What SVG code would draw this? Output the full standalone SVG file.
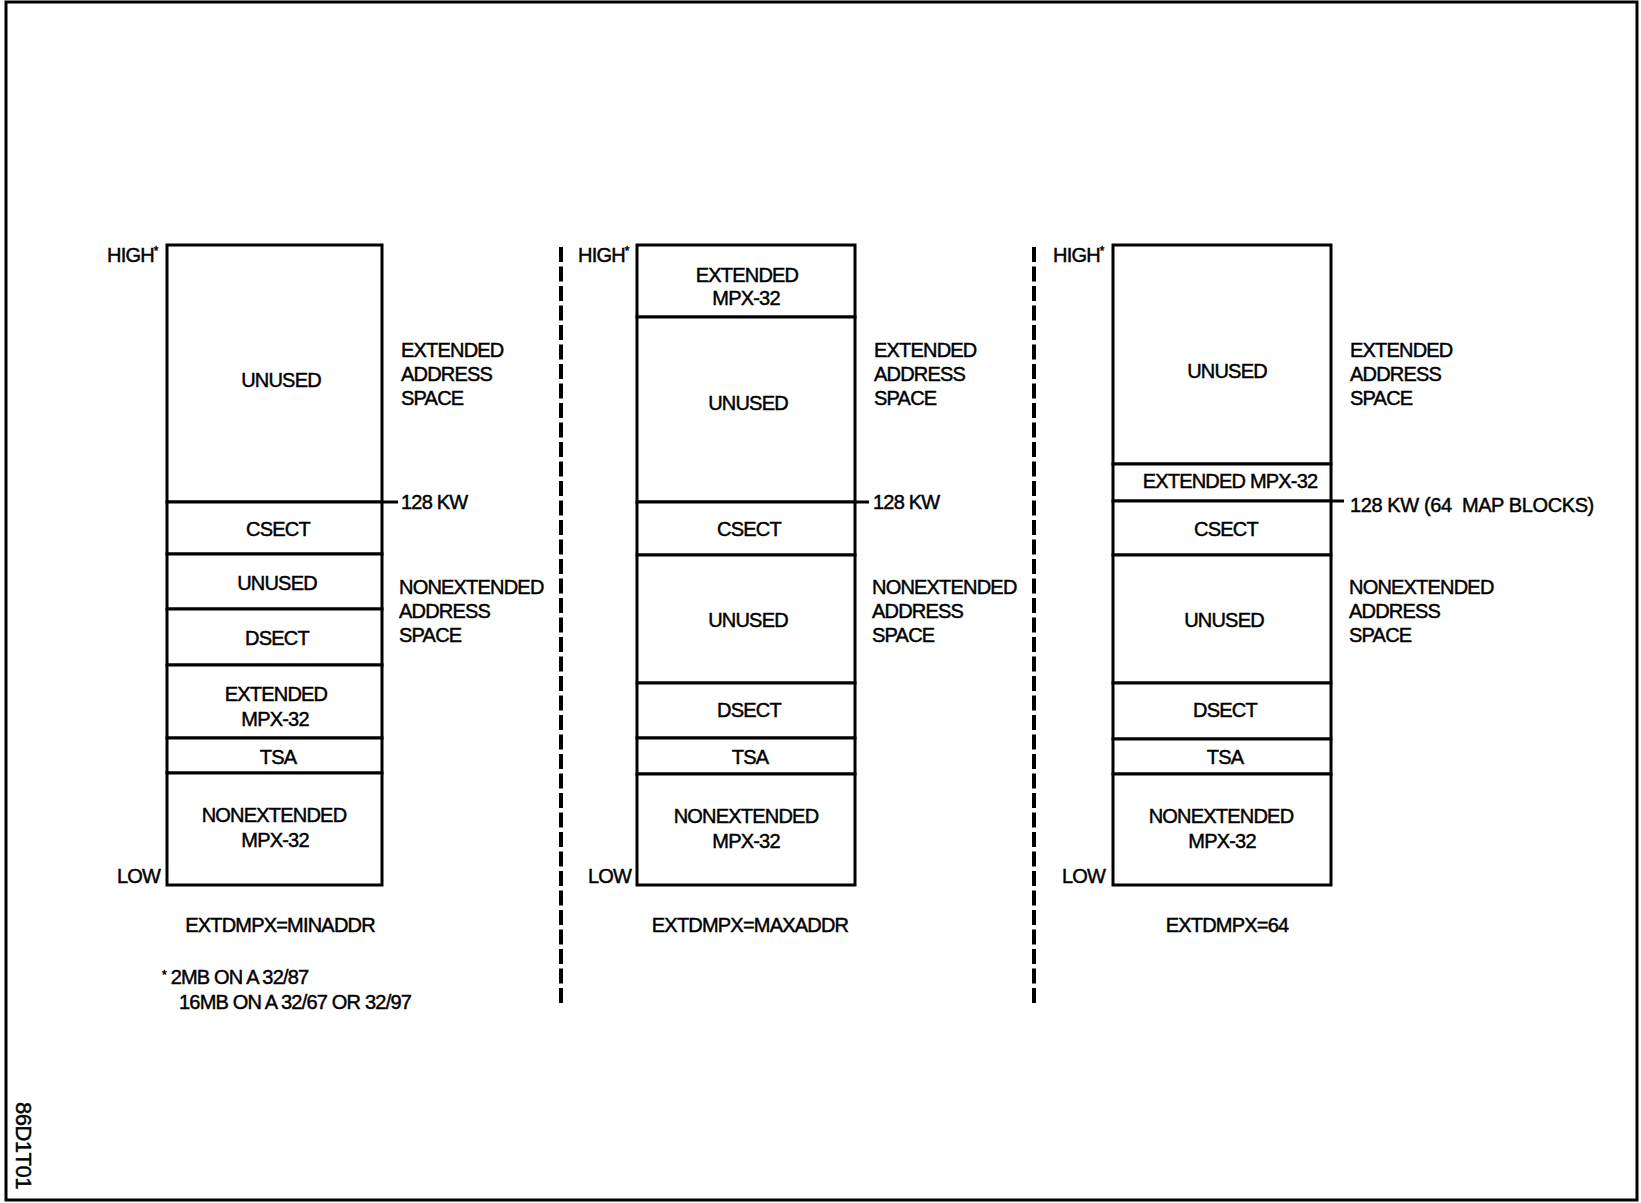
<svg xmlns="http://www.w3.org/2000/svg" width="1641" height="1203" viewBox="0 0 1641 1203">
<style>
text{font-family:"Liberation Sans",Arial,sans-serif;font-size:20px;letter-spacing:-0.8px;fill:#000;stroke:#000;stroke-width:0.45px}
.c{text-anchor:middle}
.seg{fill:#fff;stroke:#000;stroke-width:3}
.tick{stroke:#000;stroke-width:3}
.sep{stroke:#000;stroke-width:4;stroke-dasharray:15 4.5}
.sup{font-size:12px}
</style>
<rect x="0" y="0" width="1641" height="1203" fill="#fff"/>
<rect x="6" y="2" width="1631" height="1198" fill="none" stroke="#000" stroke-width="3"/>

<g id="separators">
<line class="sep" x1="561" y1="247" x2="561" y2="1005"/>
<line class="sep" x1="1034" y1="247" x2="1034" y2="1003"/>
</g>

<g id="col1">
<text x="107" y="262">HIGH<tspan class="sup" dy="-7">*</tspan></text>
<text x="117" y="883">LOW</text>
<g id="c1-unused"><rect class="seg" x="167" y="245" width="215" height="257"/><text class="c" x="281" y="387">UNUSED</text></g>
<g id="c1-csect"><rect class="seg" x="167" y="502" width="215" height="52"/><text class="c" x="278" y="536">CSECT</text></g>
<g id="c1-unused2"><rect class="seg" x="167" y="554" width="215" height="55"/><text class="c" x="277" y="590">UNUSED</text></g>
<g id="c1-dsect"><rect class="seg" x="167" y="609" width="215" height="56"/><text class="c" x="277" y="645">DSECT</text></g>
<g id="c1-extmpx"><rect class="seg" x="167" y="665" width="215" height="73"/><text class="c" x="276" y="701">EXTENDED</text><text class="c" x="275" y="726">MPX-32</text></g>
<g id="c1-tsa"><rect class="seg" x="167" y="738" width="215" height="35"/><text class="c" x="278" y="764">TSA</text></g>
<g id="c1-nonext"><rect class="seg" x="167" y="773" width="215" height="112"/><text class="c" x="274" y="822">NONEXTENDED</text><text class="c" x="275" y="847">MPX-32</text></g>
<g id="c1-labels">
<text x="401" y="357">EXTENDED</text><text x="401" y="381">ADDRESS</text><text x="401" y="405">SPACE</text>
<text x="401" y="509">128 KW</text>
<text x="399" y="594">NONEXTENDED</text><text x="399" y="618">ADDRESS</text><text x="399" y="642">SPACE</text>
</g>
<text class="c" x="280" y="932">EXTDMPX=MINADDR</text>
<text x="162" y="984"><tspan class="sup" dy="-5">*</tspan><tspan dy="5"> 2MB ON A 32/87</tspan></text>
<text x="179" y="1009">16MB ON A 32/67 OR 32/97</text>
</g>

<g id="col2">
<text x="578" y="262">HIGH<tspan class="sup" dy="-7">*</tspan></text>
<text x="588" y="883">LOW</text>
<g id="c2-extmpx"><rect class="seg" x="637" y="245" width="218" height="72"/><text class="c" x="747" y="282">EXTENDED</text><text class="c" x="746" y="305">MPX-32</text></g>
<g id="c2-unused"><rect class="seg" x="637" y="317" width="218" height="185"/><text class="c" x="748" y="410">UNUSED</text></g>
<g id="c2-csect"><rect class="seg" x="637" y="502" width="218" height="53"/><text class="c" x="749" y="536">CSECT</text></g>
<g id="c2-unused2"><rect class="seg" x="637" y="555" width="218" height="128"/><text class="c" x="748" y="627">UNUSED</text></g>
<g id="c2-dsect"><rect class="seg" x="637" y="683" width="218" height="55"/><text class="c" x="749" y="717">DSECT</text></g>
<g id="c2-tsa"><rect class="seg" x="637" y="738" width="218" height="36"/><text class="c" x="750" y="764">TSA</text></g>
<g id="c2-nonext"><rect class="seg" x="637" y="774" width="218" height="111"/><text class="c" x="746" y="823">NONEXTENDED</text><text class="c" x="746" y="848">MPX-32</text></g>
<g id="c2-labels">
<text x="874" y="357">EXTENDED</text><text x="874" y="381">ADDRESS</text><text x="874" y="405">SPACE</text>
<text x="873" y="509">128 KW</text>
<text x="872" y="594">NONEXTENDED</text><text x="872" y="618">ADDRESS</text><text x="872" y="642">SPACE</text>
</g>
<text class="c" x="750" y="932">EXTDMPX=MAXADDR</text>
</g>

<g id="col3">
<text x="1053" y="262">HIGH<tspan class="sup" dy="-7">*</tspan></text>
<text x="1062" y="883">LOW</text>
<g id="c3-unused"><rect class="seg" x="1113" y="245" width="218" height="219"/><text class="c" x="1227" y="378">UNUSED</text></g>
<g id="c3-extmpx"><rect class="seg" x="1113" y="464" width="218" height="37"/><text class="c" x="1230" y="488">EXTENDED MPX-32</text></g>
<g id="c3-csect"><rect class="seg" x="1113" y="501" width="218" height="54"/><text class="c" x="1226" y="536">CSECT</text></g>
<g id="c3-unused2"><rect class="seg" x="1113" y="555" width="218" height="128"/><text class="c" x="1224" y="627">UNUSED</text></g>
<g id="c3-dsect"><rect class="seg" x="1113" y="683" width="218" height="56"/><text class="c" x="1225" y="717">DSECT</text></g>
<g id="c3-tsa"><rect class="seg" x="1113" y="739" width="218" height="35"/><text class="c" x="1225" y="764">TSA</text></g>
<g id="c3-nonext"><rect class="seg" x="1113" y="774" width="218" height="111"/><text class="c" x="1221" y="823">NONEXTENDED</text><text class="c" x="1222" y="848">MPX-32</text></g>
<g id="c3-labels">
<text x="1350" y="357">EXTENDED</text><text x="1350" y="381">ADDRESS</text><text x="1350" y="405">SPACE</text>
<text x="1350" y="512" xml:space="preserve" style="letter-spacing:-0.4px">128 KW (64  MAP BLOCKS)</text>
<text x="1349" y="594">NONEXTENDED</text><text x="1349" y="618">ADDRESS</text><text x="1349" y="642">SPACE</text>
</g>
<text class="c" x="1227" y="932">EXTDMPX=64</text>
</g>

<g id="connectors">
<line class="tick" x1="382" y1="502" x2="398" y2="502"/>
<line class="tick" x1="855" y1="502" x2="869" y2="502"/>
<line class="tick" x1="1331" y1="501" x2="1344" y2="501"/>
</g>

<text transform="translate(16,1102) rotate(90)" style="font-size:22px;letter-spacing:-0.5px">86D1T01</text>
</svg>
